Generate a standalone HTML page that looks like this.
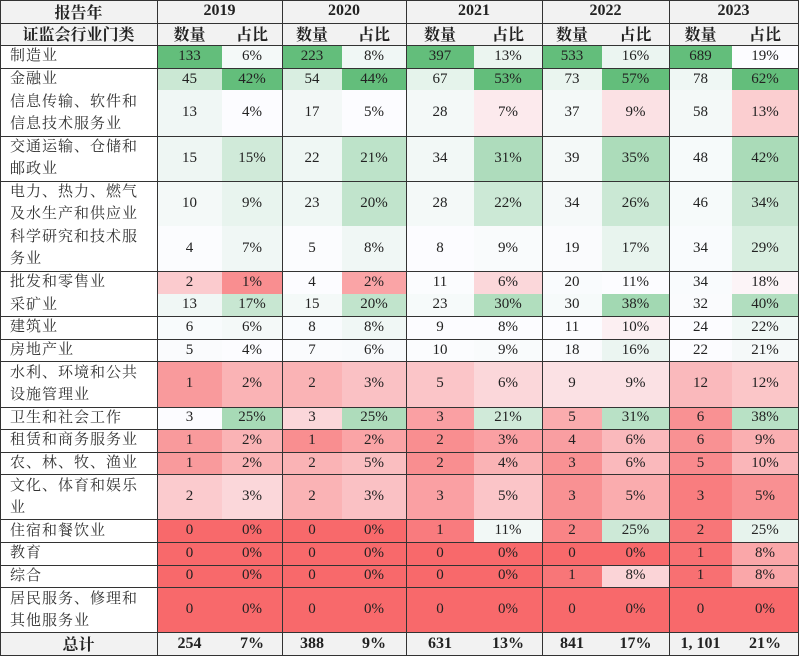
<!DOCTYPE html>
<html><head><meta charset="utf-8"><style>
body{margin:0;width:800px;height:665px;background:#fff;position:relative;overflow:hidden;font-family:"Liberation Serif","Noto Serif CJK SC",serif;}
.c{position:absolute;box-sizing:border-box;display:flex;align-items:center;justify-content:center;font-size:15px;color:#222;}
.l{justify-content:flex-start;padding-left:10px;color:#333;line-height:22px;font-size:15px;letter-spacing:1px}
.b{font-weight:bold;font-size:16px}
.hl{position:absolute;height:1px;background:#333}
.vl{position:absolute;width:1px;background:#333}
</style></head><body>
<div id="t"></div>
<script>
var X=[0,157,222,282,342,406,474,542,602,669,732,798];
var rows=[
["制造业",1,[133,6,223,8,397,13,533,16,689,19],1],
["金融业",1,[45,42,54,44,67,53,73,57,78,62],0],
["信息传输、软件和<br>信息技术服务业",2,[13,4,17,5,28,7,37,9,58,13],1],
["交通运输、仓储和<br>邮政业",2,[15,15,22,21,34,31,39,35,48,42],1],
["电力、热力、燃气<br>及水生产和供应业",2,[10,9,23,20,28,22,34,26,46,34],0],
["科学研究和技术服<br>务业",2,[4,7,5,8,8,9,19,17,34,29],1],
["批发和零售业",1,[2,1,4,2,11,6,20,11,34,18],0],
["采矿业",1,[13,17,15,20,23,30,30,38,32,40],1],
["建筑业",1,[6,6,8,8,9,8,11,10,24,22],1],
["房地产业",1,[5,4,7,6,10,9,18,16,22,21],1],
["水利、环境和公共<br>设施管理业",2,[1,2,2,3,5,6,9,9,12,12],1],
["卫生和社会工作",1,[3,25,3,25,3,21,5,31,6,38],1],
["租赁和商务服务业",1,[1,2,1,2,2,3,4,6,6,9],1],
["农、林、牧、渔业",1,[1,2,2,5,2,4,3,6,5,10],1],
["文化、体育和娱乐<br>业",2,[2,3,2,3,3,5,3,5,3,5],1],
["住宿和餐饮业",1,[0,0,0,0,1,11,2,25,2,25],1],
["教育",1,[0,0,0,0,0,0,0,0,1,8],1],
["综合",1,[0,0,0,0,0,0,1,8,1,8],1],
["居民服务、修理和<br>其他服务业",2,[0,0,0,0,0,0,0,0,0,0],1]
];
var u=655/29,h='';
function cell(x0,x1,y0,y1,txt,cls,bg){h+='<div class="c '+(cls||'')+'" style="left:'+x0+'px;width:'+(x1-x0)+'px;top:'+y0+'px;height:'+(y1-y0)+'px;background:'+(bg||'transparent')+'">'+txt+'</div>';}
function hl(y,x0,x1){h+='<div class="hl" style="top:'+Math.round(y)+'px;left:'+x0+'px;width:'+(x1-x0+1)+'px"></div>';}
cell(0,157,0,u,'报告年','b','#F2F2F2');
cell(0,157,u,2*u,'证监会行业门类','b','#F2F2F2');
var yrs=[2019,2020,2021,2022,2023];
for(var i=0;i<5;i++){cell(X[1+2*i],X[3+2*i],0,u,yrs[i],'b','#F2F2F2');cell(X[1+2*i],X[2+2*i],u,2*u,'数量','b','#F2F2F2');cell(X[2+2*i],X[3+2*i],u,2*u,'占比','b','#F2F2F2');}
var cols=[];for(var j=0;j<10;j++){var v=rows.map(r=>r[2][j]).sort((a,b)=>a-b);cols.push([v[0],v[9],v[18]]);}
function mix(a,b,t){return 'rgb('+a.map((x,k)=>Math.round(x+(b[k]-x)*t)).join(',')+')';}
var R=[248,105,107],W=[252,252,255],G=[99,190,123];
function col(j,val){var s=cols[j];if(val<=s[1]){var t=s[1]==s[0]?1:(val-s[0])/(s[1]-s[0]);return mix(R,W,t);}var t=(val-s[1])/(s[2]-s[1]);return mix(W,G,t);}
var y=2*u;var lines=[0,u,2*u];
rows.forEach(function(r,ri){var y1=y+r[1]*u;cell(0,157,y,y1,r[0],'l','#fff');
for(var j=0;j<10;j++){var bg=col(j,r[2][j]);if(ri==13&&j==3)bg='rgb(250,190,192)';cell(X[1+j],X[2+j],y,y1,r[2][j]+(j%2?'%':''),'',bg);}
if(r[3])lines.push(y1);y=y1;});
var tot=['254','7%','388','9%','631','13%','841','17%','1, 101','21%'];
cell(0,157,y,y+u,'总计','b','#F2F2F2');
for(var j=0;j<10;j++)cell(X[1+j],X[2+j],y,y+u,tot[j],'b','#F2F2F2');
lines.push(y+u);
lines.forEach(function(yy){hl(yy,0,798);});
[0,157,282,406,542,669,798].forEach(function(x){h+='<div class="vl" style="left:'+x+'px;top:0;height:'+(Math.round(y+u)+1)+'px"></div>';});
document.getElementById('t').innerHTML=h;
</script>
</body></html>
